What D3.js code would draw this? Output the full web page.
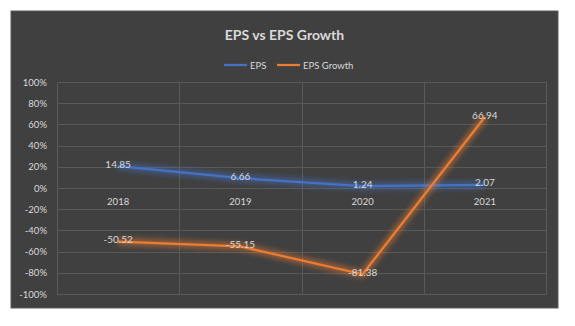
<!DOCTYPE html>
<html>
<head>
<meta charset="utf-8">
<script src="https://cdn.jsdelivr.net/npm/d3@7"></script>
<style>
  body { margin: 0; background: #fff; }
  svg text { font-family: Lato, "Open Sans", sans-serif; }
</style>
</head>
<body>
<div id="chart"></div>
<script>
const years = ['2018', '2019', '2020', '2021'];
const eps = [14.85, 6.66, 1.24, 2.07];
const epsGrowth = [-50.52, -55.15, -81.38, 66.94];
const yTicks = [100, 80, 60, 40, 20, 0, -20, -40, -60, -80, -100];
const seriesNames = ['EPS', 'EPS Growth'];
const seriesColors = ['#4472c4', '#ed7d31'];

const width = 575, height = 326;
const frame = {left: 11, top: 11, right: 558, bottom: 308};
const margin = {top: 82, right: 29, bottom: 32, left: 57};

const svg = d3.select('#chart')
    .append('svg')
    .attr('width', width)
    .attr('height', height);

// Glow filters for the two lines
const defs = svg.append('defs');
seriesColors.forEach((c, i) => {
    defs.append('filter')
        .attr('id', 'glow' + i)
        .attr('x', '-20%').attr('y', '-50%')
        .attr('width', '140%').attr('height', '200%')
        .append('feGaussianBlur')
        .attr('stdDeviation', 2.6);
});

// Chart background
svg.append('rect')
    .attr('x', frame.left)
    .attr('y', frame.top)
    .attr('width', frame.right - frame.left)
    .attr('height', frame.bottom - frame.top)
    .attr('fill', '#404040')
    .attr('stroke', '#5a5a5a')
    .attr('stroke-width', 1);

const x = d3.scaleBand()
    .domain(years)
    .range([margin.left, width - margin.right]);

// Primary axis: growth in percent
const y = d3.scaleLinear()
    .domain([-100, 100])
    .range([height - margin.bottom, margin.top]);

// Secondary (hidden) axis: EPS
const y2 = d3.scaleLinear()
    .domain([-72, 72])
    .range([height - margin.bottom, margin.top]);

// Horizontal grid lines
svg.append('g')
    .selectAll('line')
    .data(yTicks)
    .enter()
    .append('line')
    .attr('x1', margin.left)
    .attr('x2', width - margin.right)
    .attr('y1', d => Math.round(y(d)) + 0.5)
    .attr('y2', d => Math.round(y(d)) + 0.5)
    .attr('stroke', '#595959')
    .attr('stroke-width', 1);

// Vertical grid lines between categories
const bounds = years.map(d => x(d)).concat([x.range()[1]]);
svg.append('g')
    .selectAll('line')
    .data(bounds)
    .enter()
    .append('line')
    .attr('x1', d => Math.round(d) + 0.5)
    .attr('x2', d => Math.round(d) + 0.5)
    .attr('y1', y(100))
    .attr('y2', y(-100))
    .attr('stroke', '#595959')
    .attr('stroke-width', 1);

// Y axis labels
svg.append('g')
    .attr('transform', `translate(${margin.left - 10},0)`)
    .call(d3.axisLeft(y)
        .tickValues(yTicks)
        .tickFormat(d => d + '%')
        .tickSize(0)
        .tickPadding(0))
    .call(g => g.select('.domain').remove())
    .call(g => g.selectAll('text')
        .attr('font-size', '9.5px')
        .attr('fill', '#d9d9d9'));

// Category labels sit just under the zero line
svg.append('g')
    .attr('transform', `translate(0,${y(0)})`)
    .call(d3.axisBottom(x).tickSize(0).tickPadding(10))
    .call(g => g.select('.domain').remove())
    .call(g => g.selectAll('text')
        .attr('font-size', '9.5px')
        .attr('fill', '#d9d9d9'));

const cx = d => x(d) + x.bandwidth() / 2;

const series = [
    {name: seriesNames[0], values: eps, scale: y2, color: seriesColors[0]},
    {name: seriesNames[1], values: epsGrowth, scale: y, color: seriesColors[1]}
];

series.forEach((s, i) => {
    const line = d3.line()
        .x((d, j) => cx(years[j]))
        .y(d => s.scale(d));

    svg.append('path')
        .datum(s.values)
        .attr('d', line)
        .attr('fill', 'none')
        .attr('stroke', s.color)
        .attr('stroke-width', 8)
        .attr('stroke-opacity', 0.45)
        .attr('stroke-linejoin', 'round')
        .attr('filter', `url(#glow${i})`);

    svg.append('path')
        .datum(s.values)
        .attr('d', line)
        .attr('fill', 'none')
        .attr('stroke', s.color)
        .attr('stroke-width', 2.25)
        .attr('stroke-linejoin', 'round');
});

// Data labels
series.forEach(s => {
    svg.append('g')
        .selectAll('text')
        .data(s.values)
        .enter()
        .append('text')
        .attr('x', (d, j) => cx(years[j]))
        .attr('y', d => s.scale(d) + 1.5)
        .attr('text-anchor', 'middle')
        .attr('font-size', '10px')
        .attr('fill', '#d9d9d9')
        .text(d => d.toFixed(2));
});

// Title
svg.append('text')
    .attr('x', (frame.left + frame.right) / 2)
    .attr('y', 40)
    .attr('text-anchor', 'middle')
    .attr('font-size', '14px')
    .attr('font-weight', 'bold')
    .attr('fill', '#d9d9d9')
    .text('EPS vs EPS Growth');

// Legend
const legend = svg.append('g').attr('transform', 'translate(224,65)');
const legendX = [0, 53];
series.forEach((s, i) => {
    const g = legend.append('g').attr('transform', `translate(${legendX[i]},0)`);
    g.append('line')
        .attr('x1', 0).attr('x2', 23)
        .attr('stroke', s.color)
        .attr('stroke-width', 2.25);
    g.append('text')
        .attr('x', 26)
        .attr('y', 3.5)
        .attr('font-size', '9.5px')
        .attr('fill', '#d9d9d9')
        .text(s.name);
});
</script>
</body>
</html>
